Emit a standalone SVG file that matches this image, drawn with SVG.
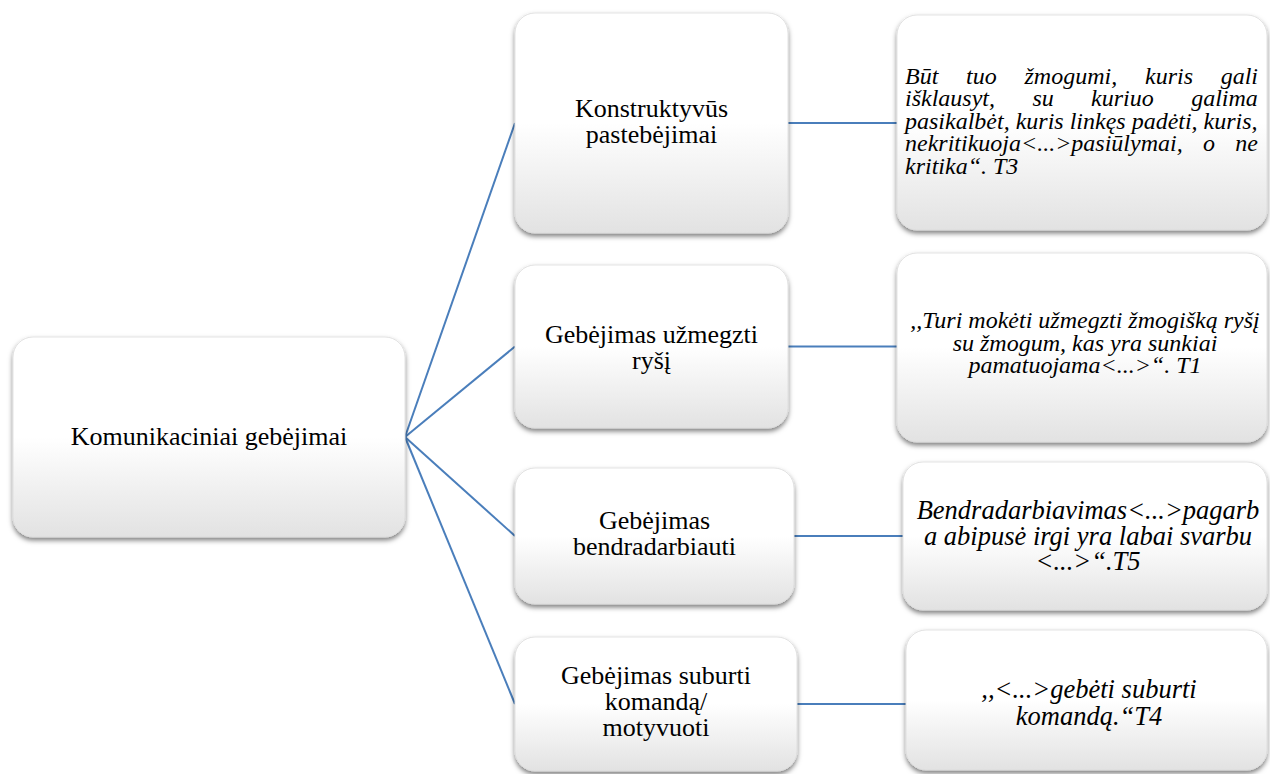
<svg xmlns="http://www.w3.org/2000/svg" width="1270" height="774" viewBox="0 0 1270 774">
  <defs>
    <linearGradient id="fillGrad" x1="0" y1="0" x2="0" y2="1">
      <stop offset="0" stop-color="#ffffff"/>
      <stop offset="0.5" stop-color="#ffffff"/>
      <stop offset="1" stop-color="#e2e2e2"/>
    </linearGradient>
    <filter id="shadow" x="-10%" y="-10%" width="120%" height="125%">
      <feDropShadow dx="0" dy="3" stdDeviation="2.5" flood-color="#000000" flood-opacity="0.5"/>
    </filter>
    <style>
      .box { fill: url(#fillGrad); stroke: #dcdcdc; stroke-width: 0.8; filter: url(#shadow); }
      text { font-family: 'Liberation Serif', 'Times New Roman', Times, serif; fill: #000; }
      .lbl { font-size: 26px; text-anchor: middle; }
      .q { font-style: italic; }
      .qc { text-anchor: middle; }
      .conn { stroke: #4a7ebb; stroke-width: 2; fill: none; }
    </style>
  </defs>
  <rect width="1270" height="774" fill="#ffffff"/>

  <g id="connectors">
    <line class="conn" x1="405" y1="437" x2="515" y2="123"/>
    <line class="conn" x1="405" y1="437" x2="515" y2="346.5"/>
    <line class="conn" x1="405" y1="437" x2="515" y2="536"/>
    <line class="conn" x1="405" y1="437" x2="515" y2="704"/>
    <line class="conn" x1="788" y1="123" x2="897" y2="123"/>
    <line class="conn" x1="788" y1="346.5" x2="897" y2="346.5"/>
    <line class="conn" x1="794" y1="536" x2="903" y2="536"/>
    <line class="conn" x1="797" y1="704" x2="906" y2="704"/>
  </g>

  <g id="root">
    <rect class="box" x="13" y="337" width="392" height="200" rx="20"/>
    <text class="lbl" x="209" y="445" font-size="26.5">Komunikaciniai gebėjimai</text>
  </g>

  <g id="m1">
    <rect class="box" x="515" y="13" width="273" height="220" rx="20"/>
    <text class="lbl" x="651.5" y="117">Konstruktyvūs</text>
    <text class="lbl" x="651.5" y="143">pastebėjimai</text>
  </g>

  <g id="m2">
    <rect class="box" x="515" y="265" width="273" height="163" rx="20"/>
    <text class="lbl" x="651.5" y="343">Gebėjimas užmegzti</text>
    <text class="lbl" x="651.5" y="369">ryšį</text>
  </g>

  <g id="m3">
    <rect class="box" x="515" y="468" width="279" height="136" rx="20"/>
    <text class="lbl" x="654.5" y="529">Gebėjimas</text>
    <text class="lbl" x="654.5" y="555">bendradarbiauti</text>
  </g>

  <g id="m4">
    <rect class="box" x="515" y="637" width="282" height="134" rx="20"/>
    <text class="lbl" x="656" y="684">Gebėjimas suburti</text>
    <text class="lbl" x="656" y="710">komandą/</text>
    <text class="lbl" x="656" y="736">motyvuoti</text>
  </g>

  <g id="r1">
    <rect class="box" x="897" y="15" width="370" height="215" rx="20"/>
    <text class="q" font-size="24" y="83.5"><tspan x="905">Būt</tspan><tspan x="966">tuo</tspan><tspan x="1024.5">žmogumi,</tspan><tspan x="1145">kuris</tspan><tspan x="1220.7">gali</tspan></text>
    <text class="q" font-size="24" y="106"><tspan x="905">išklausyt,</tspan><tspan x="1032.4">su</tspan><tspan x="1091.1">kuriuo</tspan><tspan x="1191.2">galima</tspan></text>
    <text class="q" font-size="24" x="905" y="128.5">pasikalbėt, kuris linkęs padėti, kuris,</text>
    <text class="q" font-size="24" y="151"><tspan x="905">nekritikuoja&lt;...&gt;pasiūlymai,</tspan><tspan x="1203">o</tspan><tspan x="1235.3">ne</tspan></text>
    <text class="q" font-size="24" x="905" y="173.5">kritika“. T3</text>
  </g>

  <g id="r2">
    <rect class="box" x="897" y="253" width="370" height="189" rx="20"/>
    <text class="q qc" font-size="24" x="1085" y="328">,,Turi mokėti užmegzti žmogišką ryšį</text>
    <text class="q qc" font-size="24" x="1085" y="350.5">su žmogum, kas yra sunkiai</text>
    <text class="q qc" font-size="24" x="1085" y="373">pamatuojama&lt;...&gt;“. T1</text>
  </g>

  <g id="r3">
    <rect class="box" x="903" y="462" width="364" height="148" rx="20"/>
    <text class="q qc" font-size="26.5" x="1088" y="519">Bendradarbiavimas&lt;...&gt;pagarb</text>
    <text class="q qc" font-size="26.5" x="1088" y="544.5">a abipusė irgi yra labai svarbu</text>
    <text class="q qc" font-size="26.5" x="1088" y="570">&lt;...&gt;“.T5</text>
  </g>

  <g id="r4">
    <rect class="box" x="906" y="630" width="361" height="140" rx="20"/>
    <text class="q qc" font-size="26.5" x="1089" y="698">,,&lt;...&gt;gebėti suburti</text>
    <text class="q qc" font-size="26.5" x="1089" y="725">komandą.“T4</text>
  </g>
</svg>
